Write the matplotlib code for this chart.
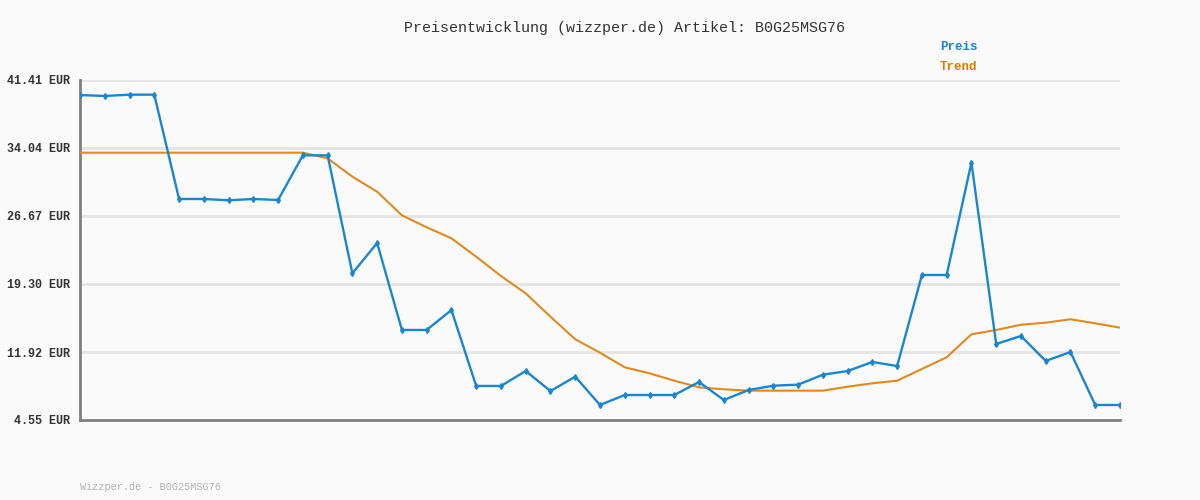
import matplotlib
matplotlib.use("Agg")
import matplotlib.pyplot as plt
import numpy as np

# Preisverlauf (EUR) und Trend, 43 Messpunkte
preis = [39.78, 39.68, 39.82, 39.82, 28.51, 28.51, 28.37, 28.51, 28.40, 33.24,
         33.24, 20.45, 23.74, 14.31, 14.31, 16.47, 8.24, 8.24, 9.86, 7.69,
         9.25, 6.18, 7.26, 7.26, 7.26, 8.67, 6.72, 7.80, 8.27, 8.38,
         9.46, 9.86, 10.84, 10.40, 20.27, 20.27, 32.45, 12.79, 13.66, 10.95,
         11.92, 6.18, 6.18]
trend = [33.53, 33.53, 33.53, 33.53, 33.53, 33.53, 33.53, 33.53, 33.53, 33.53,
         32.92, 30.93, 29.30, 26.74, 25.44, 24.25, 22.25, 20.16, 18.28, 15.75,
         13.30, 11.85, 10.26, 9.61, 8.81, 8.09, 7.88, 7.73, 7.73, 7.73,
         7.73, 8.16, 8.53, 8.81, 10.08, 11.35, 13.84, 14.31, 14.88, 15.10,
         15.47, 15.03, 14.56]
y_ticks = [4.55, 11.92, 19.30, 26.67, 34.04, 41.41]

BG = "#fafafa"
BLUE = "#1a86d0"
ORANGE = "#e08a1e"
MONO = ["Liberation Mono", "DejaVu Sans Mono"]

fig = plt.figure(figsize=(12, 5), dpi=100, facecolor=BG)
ax = fig.add_axes([80 / 1200, 80 / 500, 1040 / 1200, 340 / 500], facecolor=BG)

x = np.arange(len(preis))
ax.plot(x, trend, color=ORANGE, linewidth=1.5, zorder=3)
ax.plot(x, preis, color=BLUE, linewidth=1.7, marker="d", markersize=3,
        zorder=4)

ax.set_xlim(0, len(preis) - 1)
ax.set_ylim(y_ticks[0], y_ticks[-1])
ax.set_yticks(y_ticks)
ax.set_yticklabels([f"{v:.2f} EUR" for v in y_ticks], family=MONO,
                   fontsize=8.5, fontweight="bold", color="#333333")
ax.set_xticks([])
ax.tick_params(axis="y", length=0, pad=7)
ax.grid(axis="y", color="#e4e4e4", linewidth=2)

for side in ["top", "right"]:
    ax.spines[side].set_visible(False)
for side in ["left", "bottom"]:
    ax.spines[side].set_color("#808080")
    ax.spines[side].set_linewidth(2)

fig.text(0.52, 1 - 28 / 500, "Preisentwicklung (wizzper.de) Artikel: B0G25MSG76",
         ha="center", va="center", family=MONO, fontsize=10.8, color="#333333")
fig.text(940 / 1200, 1 - 47 / 500, "Preis", ha="left", va="center",
         family=MONO, fontsize=9, fontweight="bold", color="#1a80c8")
fig.text(940 / 1200, 1 - 67 / 500, "Trend", ha="left", va="center",
         family=MONO, fontsize=9, fontweight="bold", color="#d97a10")
fig.text(80 / 1200, 1 - 487 / 500, "Wizzper.de - B0G25MSG76", ha="left",
         va="center", family=MONO, fontsize=7.3, color="#b0b0b0")

fig.savefig("out.png", dpi=100, facecolor=BG)
